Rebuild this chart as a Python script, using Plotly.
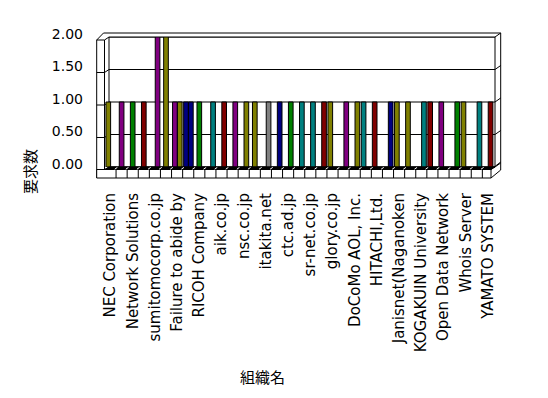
import plotly.graph_objects as go

# ---------------- data ----------------
org_labels = ["NEC Corporation", "Network Solutions", "sumitomocorp.co.jp",
              "Failure to abide by", "RICOH Company", "aik.co.jp", "nsc.co.jp",
              "itakita.net", "ctc.ad.jp", "sr-net.co.jp", "glory.co.jp",
              "DoCoMo AOL, Inc.", "HITACHI,Ltd.", "Janisnet(Naganoken",
              "KOGAKUIN University", "Open Data Network", "Whois Server",
              "YAMATO SYSTEM"]
org_index = list(range(35))          # 35 organisations, every other one labelled
label_index = org_index[::2]
y_ticks = [0, 0.5, 1, 1.5, 2]

N = None
# request counts (要求数) per organisation, in the three depth rows of the 3-D chart
front_counts = [1, N, N, N, N, N, 1, 1, N, N, N, N, N, N, N, N, N, N, N, N,
                1, N, N, 1, 1, N, 1, 1, N, 1, 1, N, 1, N, N]
mid_counts = [N, 1, 1, 1, N, 2, N, N, 1, N, N, N, N, 1, N, N, N, N, N, N,
              N, N, N, N, N, N, N, N, N, N, N, N, N, N, N]
back_counts = [N, N, N, N, 2, N, 1, 1, N, 1, 1, 1, 1, N, 1, 1, 1, 1, 1, 1,
               N, 1, 1, N, N, 1, N, N, 1, N, N, 1, N, 1, 1]

# ---------------- style ----------------
front_colours = "O.....PN............O..TM.OO.MP.O.."
mid_colours = ".PGM.O..G....O....................."
back_colours = "....P.ON.TMPO.YNGTTM.PO..N..T..G.TM"
palette = {"O": "#808000", "P": "#800080", "G": "#008000", "M": "#800000",
           "N": "#000080", "T": "#008080", "Y": "#808080", ".": "#ffffff"}

L, T, W, H = 104, 37, 391, 130      # plot area (includes the thin left wall)
WALL_X = 109                        # left edge of the back wall
FIG_W, FIG_H = 548, 398
BAR_W = 0.42

fig = go.Figure()
for counts, cols, depth in [(back_counts, back_colours, 0.24),
                            (mid_counts, mid_colours, 0.0),
                            (front_counts, front_colours, -0.2)]:
    fig.add_trace(go.Bar(
        x=org_index, y=counts,
        width=BAR_W, offset=depth - BAR_W / 2,
        marker=dict(color=[palette[c] for c in cols],
                    line=dict(color="black", width=1)),
        hoverinfo="skip", showlegend=False))


def px(x):
    return (x - L) / W


def py(y):
    return (T + H - y) / H


shapes = []


def seg(x0, y0, x1, y1, color="black", width=1, layer="below"):
    shapes.append(dict(type="line", xref="paper", yref="paper",
                       x0=px(x0), y0=py(y0), x1=px(x1), y1=py(y1),
                       line=dict(color=color, width=width), layer=layer))


def poly(pts, fill, layer="above"):
    path = "M " + " L ".join(f"{px(a)},{py(b)}" for a, b in pts) + " Z"
    shapes.append(dict(type="path", xref="paper", yref="paper", path=path,
                       fillcolor=fill, line=dict(color="black", width=1),
                       layer=layer))


grid_px = [T + H - k * H / 4 for k in range(5)]

# back wall with its gridlines
shapes.append(dict(type="rect", xref="paper", yref="paper",
                   x0=px(WALL_X), y0=0, x1=1, y1=1,
                   line=dict(color="black", width=1), layer="below"))
for v in y_ticks:
    shapes.append(dict(type="line", xref="paper", yref="y",
                       x0=px(WALL_X), x1=1, y0=v, y1=v,
                       line=dict(color="black", width=1), layer="below"))

# floor top (black band) and front face
poly([(104.5, 169.5), (491, 169.5), (495, 167), (109, 167)], "black")
poly([(96.7, 169.5), (491, 169.5), (491, 178), (96.7, 178)], "white")
for k in range(34):
    shapes.append(dict(type="line", xref="x", yref="paper",
                       x0=k + 0.5, x1=k + 0.5, y0=py(169.5), y1=py(178),
                       line=dict(color="black", width=1), layer="above"))
    shapes.append(dict(type="line", xref="x", yref="paper",
                       x0=k + 0.5 - 0.12, x1=k + 0.5 + 0.12,
                       y0=py(169.2), y1=py(167.4),
                       line=dict(color="white", width=1), layer="above"))

# wall thickness: top and right
seg(103.5, 33, 500.7, 33)
seg(96.7, 40, 103.5, 33)
seg(500.7, 33, 500.7, 170)
for g in grid_px:
    seg(495, g, 500.7, g - 4)
seg(491, 178, 500.7, 170)
seg(491, 169.5, 500.7, 162)
# left wall
seg(96.7, 40, 96.7, 178)
seg(104.5, 40, 104.5, 169.5)
for g in grid_px:
    seg(96.7, g + 3, 104.5, g + 3)
    seg(104.5, g + 3, 109, g)

fig.update_layout(
    width=FIG_W, height=FIG_H, template="none",
    margin=dict(l=L, r=FIG_W - L - W, t=T, b=FIG_H - T - H, pad=0),
    paper_bgcolor="white", plot_bgcolor="rgba(0,0,0,0)",
    barmode="overlay", showlegend=False,
    font=dict(family="DejaVu Sans", size=14, color="black"),
    shapes=shapes,
    xaxis=dict(range=[-0.586, 34.64], tickmode="array", tickvals=label_index,
               ticktext=org_labels, tickangle=-90, ticks="", showgrid=False,
               zeroline=False, showline=False, automargin=False,
               tickfont=dict(family="DejaVu Sans", size=15),
               ticklabelstandoff=22),
    yaxis=dict(range=[0, 2], tickmode="array", tickvals=y_ticks,
               tickformat=".2f", ticks="", showgrid=False,
               zeroline=False, showline=False, automargin=False,
               tickfont=dict(family="DejaVu Sans", size=14),
               ticklabelstandoff=20, ticklabelshift=-3),
    annotations=[
        dict(text="要求数", xref="paper", yref="paper", x=px(29), y=py(172),
             xanchor="center", yanchor="middle",
             showarrow=False, textangle=-90,
             font=dict(family="Noto Sans CJK JP", size=15)),
        dict(text="組織名", xref="paper", yref="paper", x=px(262), y=py(376),
             xanchor="center", yanchor="middle",
             showarrow=False, font=dict(family="Noto Sans CJK JP", size=15)),
    ],
)

fig.write_html("out.html", config={"displayModeBar": False},
               post_script="document.body.style.margin='0';"
                           "document.body.style.padding='0';")
